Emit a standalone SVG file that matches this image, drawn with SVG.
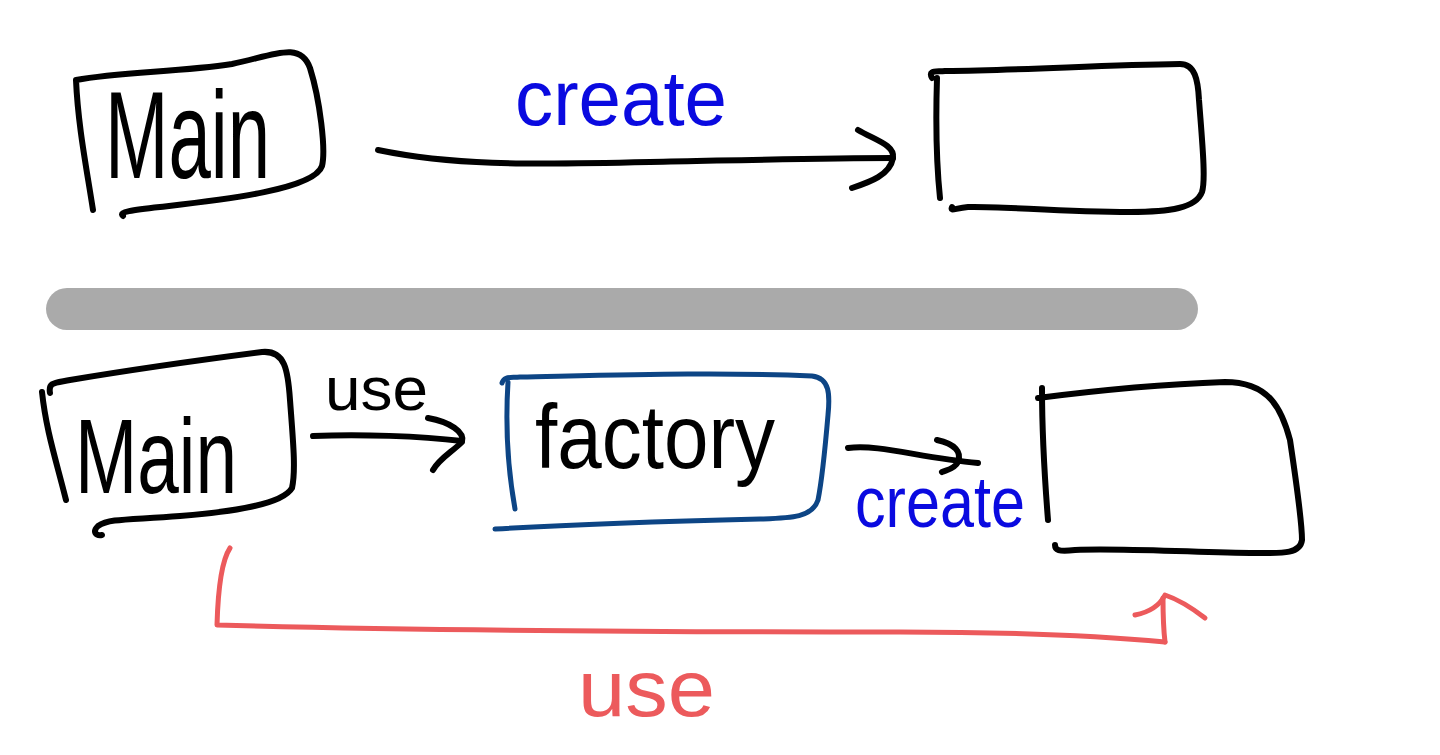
<svg xmlns="http://www.w3.org/2000/svg" width="1440" height="755" viewBox="0 0 1440 755">
<style>
.ink{fill:none;stroke:#000;stroke-width:6;stroke-linecap:round;stroke-linejoin:round}
.navy{fill:none;stroke:#0d4585;stroke-width:5;stroke-linecap:round;stroke-linejoin:round}
.red{fill:none;stroke:#ec5a5c;stroke-width:5;stroke-linecap:round;stroke-linejoin:round}
.lbl{font-family:"Liberation Sans","DejaVu Sans",sans-serif}
.blk{fill:#000}
.blu{fill:#0a0ae0}
.rd{fill:#ec5a5c}
</style>
<rect width="1440" height="755" fill="#fff"/>

<g id="main-top">
<path class="ink" d="M93 210 C86 165 78 125 76 80 M76 80 C120 72 180 72 232 64 C272 56 300 40 310 68 C320 100 326 150 322 166 C314 190 220 200 160 207 C132 210 118 212 123 216"/>
<text class="lbl blk" x="105" y="178" font-size="125" textLength="165" lengthAdjust="spacingAndGlyphs">Main</text>
</g>

<g id="product-top">
<path class="ink" d="M940 198 C936 160 936 110 937 78 M932 78 C928 70 935 72 945 71 C1030 70 1100 65 1180 64 C1195 64 1198 80 1199 100 C1202 140 1206 180 1202 192 C1196 208 1170 212 1130 212 C1060 212 1000 206 968 207 C955 208 950 212 952 207"/>
</g>

<g id="separator">
<rect x="46" y="288" width="1152" height="42" rx="21" fill="#aaaaaa"/>
</g>

<g id="main-bottom">
<path class="ink" d="M66 500 C56 460 46 430 42 392 M50 393 C48 382 55 383 70 380 C130 370 200 360 262 352 C285 350 288 370 290 400 C293 440 296 470 292 488 C282 505 230 512 180 516 C130 520 110 518 98 526 C92 532 96 536 102 535"/>
<text class="lbl blk" x="75" y="493" font-size="105" textLength="162" lengthAdjust="spacingAndGlyphs">Main</text>
</g>

<g id="factory">
<path class="navy" d="M515 509 C508 470 505 430 508 382 M502 383 C504 376 510 378 520 377 C620 375 720 372 812 376 C830 378 830 395 828 415 C825 450 822 480 818 500 C812 518 790 518 760 519 C680 521 580 524 495 529"/>
<text class="lbl blk" x="535" y="468" font-size="90" textLength="240" lengthAdjust="spacingAndGlyphs">factory</text>
</g>

<g id="product-bottom">
<path class="ink" d="M1048 520 C1044 470 1042 420 1042 388 M1038 398 C1100 390 1170 384 1225 382 C1270 382 1282 410 1290 440 C1296 480 1302 520 1302 540 C1300 555 1280 553 1250 553 C1180 552 1120 548 1075 550 C1058 552 1055 550 1055 545"/>
</g>

<g id="connectors">
<path class="ink" d="M378 150 C450 165 520 165 650 162 C750 160 820 158 893 158"/>
<path class="ink" d="M858 130 C875 140 895 145 893 158 C890 175 870 182 852 188"/>
<path class="ink" d="M313 436 C360 434 420 436 462 441"/>
<path class="ink" d="M428 418 C450 422 465 432 462 442 C452 452 440 458 433 470"/>
<path class="ink" d="M848 448 C880 444 920 458 978 463"/>
<path class="ink" d="M937 440 C955 444 962 452 958 462 C954 470 945 470 942 472"/>
<path class="red" d="M230 548 C222 560 218 590 217 625 C400 630 700 632 900 632 C1000 632 1100 636 1165 642"/>
<path class="red" d="M1165 642 C1163 625 1163 610 1163 598"/>
<path class="red" d="M1135 615 C1150 612 1160 605 1165 595 C1180 600 1192 608 1205 618"/>
</g>

<g id="labels">
<text class="lbl blu" x="515" y="125" font-size="78" textLength="212" lengthAdjust="spacingAndGlyphs">create</text>
<text class="lbl blk" x="325" y="410" font-size="62" textLength="103" lengthAdjust="spacingAndGlyphs">use</text>
<text class="lbl blu" x="855" y="527" font-size="72" textLength="170" lengthAdjust="spacingAndGlyphs">create</text>
<text class="lbl rd" x="578" y="716" font-size="80" textLength="137" lengthAdjust="spacingAndGlyphs">use</text>
</g>
</svg>
